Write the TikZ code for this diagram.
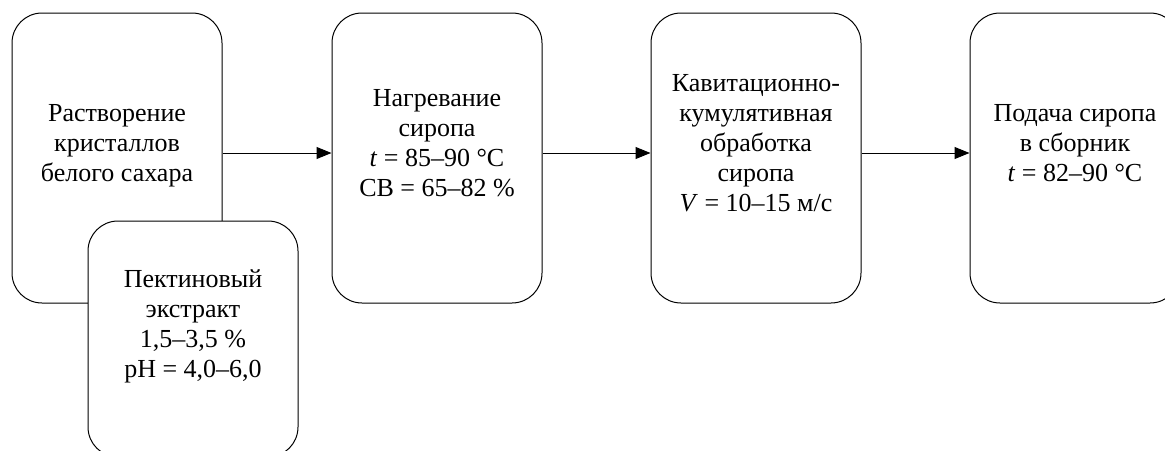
\documentclass[tikz,border=0pt]{standalone}
\usepackage{fontspec}
\setmainfont{Liberation Serif}
\usetikzlibrary{positioning, arrows.meta}

\begin{document}
\begin{tikzpicture}[
  every node/.style={font=\fontsize{26}{30}\selectfont},
  stage/.style={draw, rectangle, rounded corners=30pt, fill=white, line width=1pt, minimum width=210pt, minimum height=290pt, align=center},
  arrow/.style={-{Triangle[length=15pt, width=12pt]}, line width=1pt}
]
\useasboundingbox (0,0) rectangle (1165pt,-450pt);
\clip (0,0) rectangle (1165pt,-450pt);

% Stages
\node[stage] (dissolve) at (117pt,-158pt) {Растворение\\кристаллов\\белого сахара\\ \mbox{}};
\node[stage, right=109pt of dissolve] (heat) {Нагревание\\сиропа\\\textit{t} = 85--90 °C\\СВ = 65--82 \%\\ \mbox{}};
\node[stage, right=108pt of heat] (cavit) {Кавитационно-\\кумулятивная\\обработка\\сиропа\\\textit{V} = 10--15 м/с\\ \mbox{}};
\node[stage, right=108pt of cavit] (supply) {Подача сиропа\\в сборник\\\textit{t} = 82--90 °C\\ \mbox{}};

% Additive
\node[stage, minimum height=236pt, below=-83pt of dissolve, xshift=76pt] (pectin) {Пектиновый\\экстракт\\1,5--3,5 \%\\pH = 4,0--6,0\\ \mbox{}};

% Arrows
\draw[arrow] ([yshift=5pt]dissolve.east) -- ([yshift=5pt]heat.west);
\draw[arrow] ([yshift=5pt]heat.east) -- ([yshift=5pt]cavit.west);
\draw[arrow] ([yshift=5pt]cavit.east) -- ([yshift=5pt]supply.west);

\end{tikzpicture}
\end{document}
